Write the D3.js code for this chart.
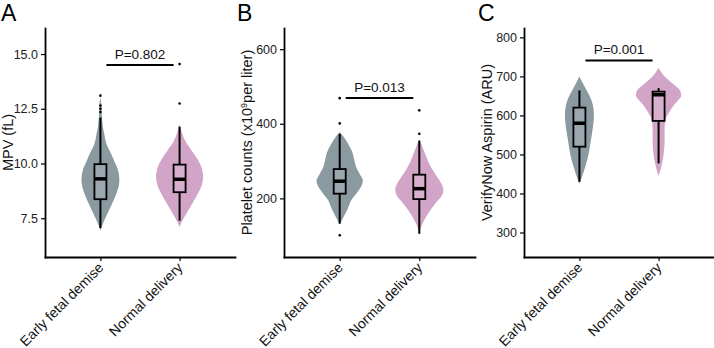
<!DOCTYPE html>
<html>
<head>
<meta charset="utf-8">
<script src="https://cdn.jsdelivr.net/npm/d3@7"></script>
<style>
  body { margin: 0; background: #fff; }
  svg { display: block; font-family: "Liberation Sans", Arial, Helvetica, sans-serif; }
</style>
</head>
<body>
<svg id="chart" width="714" height="348"></svg>
<script>
const groups = ["Early fetal demise", "Normal delivery"];

// panel A: MPV (fL)
const mpvTicks = [7.5, 10, 12.5, 15];
// [value, relative density]
const mpvEarlyViolin = [[6.95, 0], [7.3, 0.12], [7.7, 0.29], [8.1, 0.46], [8.5, 0.62], [8.9, 0.75], [9.3, 0.79], [9.7, 0.73], [10.1, 0.58], [10.5, 0.42], [10.9, 0.25], [11.3, 0.17], [11.7, 0.1], [12.2, 0.06], [12.7, 0.04], [13.0, 0]];
const mpvNormalViolin = [[7.1, 0], [7.4, 0.12], [7.8, 0.33], [8.2, 0.54], [8.6, 0.75], [9.0, 0.92], [9.4, 0.98], [9.8, 0.92], [10.2, 0.75], [10.6, 0.5], [11.0, 0.25], [11.4, 0.1], [11.8, 0]];
// [q1, median, q3, lower whisker, upper whisker]
const mpvEarlyBox = [8.37, 9.3, 9.97, 7.05, 12.1];
const mpvNormalBox = [8.69, 9.28, 9.95, 7.39, 11.68];
const mpvEarlyOut = [12.35, 12.5, 12.65, 13.1];
const mpvNormalOut = [12.74, 14.54];

// panel B: platelet counts
const pltTicks = [200, 400, 600];
const pltEarlyViolin = [[130, 0], [150, 0.16], [170, 0.32], [195, 0.48], [215, 0.72], [235, 0.92], [250, 0.96], [265, 0.84], [285, 0.68], [305, 0.6], [325, 0.52], [345, 0.36], [365, 0.16], [378, 0]];
const pltNormalViolin = [[110, 0], [130, 0.12], [150, 0.28], [170, 0.48], [190, 0.72], [210, 0.96], [225, 1], [240, 0.92], [260, 0.72], [280, 0.52], [300, 0.36], [320, 0.24], [340, 0.12], [358, 0]];
const pltEarlyBox = [212.6, 246, 278.6, 132, 373];
const pltNormalBox = [198, 226, 263.5, 105, 355];
const pltEarlyOut = [101, 401, 468.7];
const pltNormalOut = [373, 436];

// panel C: VerifyNow Aspirin (ARU)
const aruTicks = [300, 400, 500, 600, 700, 800];
const aruEarlyViolin = [[425, 0], [445, 0.12], [470, 0.25], [500, 0.38], [530, 0.46], [560, 0.54], [590, 0.6], [620, 0.58], [645, 0.46], [665, 0.29], [685, 0.12], [700, 0]];
const aruNormalViolin = [[445, 0], [470, 0.12], [500, 0.21], [530, 0.25], [560, 0.25], [590, 0.29], [610, 0.46], [625, 0.62], [640, 0.83], [650, 0.94], [665, 0.88], [680, 0.62], [695, 0.33], [710, 0.12], [722, 0]];
const aruEarlyBox = [520, 580, 620, 430, 664];
const aruNormalBox = [586, 653, 661, 477, 670];
const aruEarlyOut = [];
const aruNormalOut = [];

const pLabels = ["P=0.802", "P=0.013", "P=0.001"];
const pHeights = [14.5, 469, 741];

const fills = ["#8b9aa1", "#d2a4c7"];
const boxFills = ["#9aa7ad", "#d8afcd"];

const svg = d3.select("#chart");

function drawPanel(p) {
  const g = svg.append("g");

  const y = d3.scaleLinear().domain(p.domain).range([p.bottom, p.top]);
  const x = d3.scalePoint().domain(groups).range([p.left, p.right]).padding(0.7);
  const w = d3.scaleLinear().domain([0, 1]).range([0, 24]);

  // violins
  groups.forEach((grp, i) => {
    const cx = x(grp);
    const area = d3.area()
      .curve(d3.curveCatmullRom)
      .y(d => y(d[0]))
      .x0(d => cx - w(d[1]))
      .x1(d => cx + w(d[1]));
    g.append("path")
      .datum(p.violins[i])
      .attr("d", area)
      .attr("fill", fills[i]);
  });

  // boxplots
  const bw = 12;
  groups.forEach((grp, i) => {
    const cx = x(grp);
    const [q1, med, q3, lo, hi] = p.boxes[i];
    g.append("line")
      .attr("x1", cx).attr("x2", cx)
      .attr("y1", y(lo)).attr("y2", y(hi))
      .attr("stroke", "#000").attr("stroke-width", 2);
    g.append("rect")
      .attr("x", cx - bw / 2).attr("width", bw)
      .attr("y", y(q3)).attr("height", y(q1) - y(q3))
      .attr("fill", boxFills[i])
      .attr("stroke", "#000").attr("stroke-width", 1.8);
    g.append("line")
      .attr("x1", cx - bw / 2).attr("x2", cx + bw / 2)
      .attr("y1", y(med)).attr("y2", y(med))
      .attr("stroke", "#000").attr("stroke-width", 3.5);
    g.selectAll(null)
      .data(p.outliers[i])
      .join("circle")
      .attr("cx", cx).attr("cy", d => y(d))
      .attr("r", 1.3)
      .attr("fill", "#000");
  });

  // significance bracket
  const bx1 = x(groups[0]) + 6, bx2 = x(groups[1]) - 6;
  g.append("line")
    .attr("x1", bx1).attr("x2", bx2)
    .attr("y1", y(p.pY)).attr("y2", y(p.pY))
    .attr("stroke", "#000").attr("stroke-width", 2);
  g.append("text")
    .attr("x", (bx1 + bx2) / 2).attr("y", y(p.pY) - 6)
    .attr("text-anchor", "middle")
    .attr("font-size", 13.5)
    .attr("fill", "#111")
    .text(p.pLabel);

  // axes
  const yAxis = g.append("g")
    .attr("transform", `translate(${p.left},0)`)
    .call(d3.axisLeft(y).tickValues(p.ticks).tickFormat(p.fmt).tickSize(4).tickSizeOuter(0).tickPadding(3));
  yAxis.selectAll("text").attr("font-size", 12.5).attr("fill", "#222").attr("font-family", null);

  const xAxis = g.append("g")
    .attr("transform", `translate(0,${p.bottom})`)
    .call(d3.axisBottom(x).tickSize(4).tickSizeOuter(0));
  xAxis.selectAll("text")
    .attr("y", 0).attr("dy", "0.35em")
    .attr("text-anchor", "end")
    .attr("transform", "translate(0,8) rotate(-45)")
    .attr("font-size", 14).attr("fill", "#111").attr("font-family", null);

  svg.selectAll(".domain, .tick line")
    .attr("stroke", "#000").attr("stroke-width", 1.8).attr("stroke-linecap", "square");
  svg.selectAll(".tick line").attr("stroke-width", 1.2).attr("stroke-linecap", "butt");

  // y title
  const ty = g.append("text")
    .attr("transform", `translate(${p.titleX},${(p.top + p.bottom) / 2}) rotate(-90)`)
    .attr("text-anchor", "middle")
    .attr("font-size", 14.5)
    .attr("fill", "#111");
  p.title(ty);

  // panel letter
  g.append("text")
    .attr("x", p.letterX).attr("y", 21)
    .attr("font-size", 23)
    .attr("fill", "#000")
    .text(p.letter);
}

drawPanel({
  letter: "A", letterX: 1,
  left: 45, right: 235, top: 28, bottom: 257,
  domain: [5.73, 16.19], ticks: mpvTicks, fmt: d3.format(".1f"),
  titleX: 13,
  title: t => t.text("MPV (fL)"),
  violins: [mpvEarlyViolin, mpvNormalViolin],
  boxes: [mpvEarlyBox, mpvNormalBox],
  outliers: [mpvEarlyOut, mpvNormalOut],
  pLabel: pLabels[0], pY: pHeights[0]
});

drawPanel({
  letter: "B", letterX: 237,
  left: 284, right: 475, top: 28, bottom: 257,
  domain: [42.8, 656.8], ticks: pltTicks, fmt: d3.format("d"),
  titleX: 252,
  title: t => {
    t.append("tspan").text("Platelet counts (x10");
    t.append("tspan").attr("baseline-shift", "super").attr("font-size", 9).text("9");
    t.append("tspan").text("per liter)");
  },
  violins: [pltEarlyViolin, pltNormalViolin],
  boxes: [pltEarlyBox, pltNormalBox],
  outliers: [pltEarlyOut, pltNormalOut],
  pLabel: pLabels[1], pY: pHeights[1]
});

drawPanel({
  letter: "C", letterX: 478,
  left: 524, right: 714, top: 28, bottom: 257,
  domain: [237.3, 824], ticks: aruTicks, fmt: d3.format("d"),
  titleX: 492,
  title: t => t.text("VerifyNow Aspirin (ARU)"),
  violins: [aruEarlyViolin, aruNormalViolin],
  boxes: [aruEarlyBox, aruNormalBox],
  outliers: [aruEarlyOut, aruNormalOut],
  pLabel: pLabels[2], pY: pHeights[2]
});
</script>
</body>
</html>
